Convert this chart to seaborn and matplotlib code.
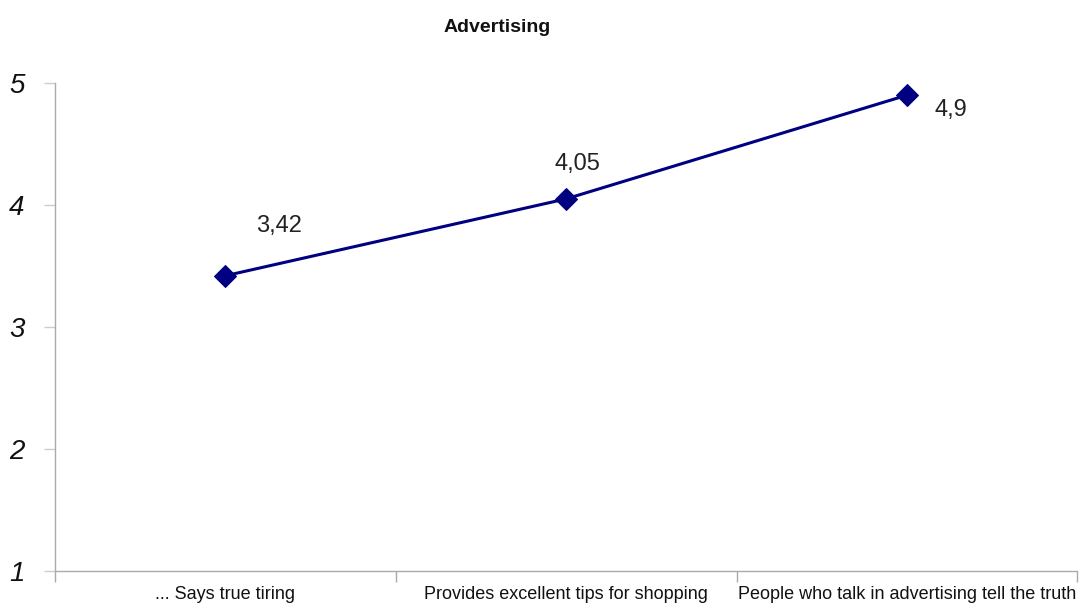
import matplotlib
matplotlib.use("Agg")
import matplotlib.pyplot as plt
import seaborn as sns
import pandas as pd

categories = ["... Says true tiring", "Provides excellent tips for shopping",
              "People who talk in advertising tell the truth"]
values = [3.42, 4.05, 4.9]
value_labels = ["3,42", "4,05", "4,9"]
yticks = [1, 2, 3, 4, 5]

sns.set_theme(style="white")
plt.rcParams['font.family'] = ['Liberation Sans', 'DejaVu Sans']

df = pd.DataFrame({"cat": categories, "val": values, "x": range(len(categories))})

fig = plt.figure(figsize=(10.83, 6.1), dpi=100)
ax = fig.add_axes([0.0508, 0.064, 0.944, 0.8])

sns.lineplot(data=df, x="x", y="val", ax=ax, color="#000080", linewidth=2.2,
             marker="D", markersize=11, markeredgecolor="#000080")

ax.set_xlim(-0.5, 2.5)
ax.set_ylim(1, 5)
ax.set_yticks(yticks)
ax.set_yticklabels([str(t) for t in yticks], fontsize=20, style="italic", color="#111111")
ax.set_xticks([-0.5, 0.5, 1.5, 2.5])
ax.set_xticklabels([])
ax.set_xticks([0, 1, 2], minor=True)
ax.set_xticklabels(categories, minor=True, fontsize=13, color="#111111")
ax.tick_params(axis="x", which="minor", length=0, pad=11)
ax.tick_params(axis="x", which="major", length=8, color="#aaaaaa", width=1, direction="out", bottom=True)
ax.tick_params(axis="y", which="major", length=8, color="#cccccc", width=1, direction="out", left=True, pad=14)
ax.set_xlabel("")
ax.set_ylabel("")

for s in ["top", "right"]:
    ax.spines[s].set_visible(False)
for s in ["left", "bottom"]:
    ax.spines[s].set_color("#aaaaaa")
    ax.spines[s].set_linewidth(1)

offsets = [(54, 50), (11, 35), (44, -15)]
for i, (v, lab) in enumerate(zip(values, value_labels)):
    ax.annotate(lab, (i, v), xytext=offsets[i], textcoords="offset pixels",
                ha="center", va="center", fontsize=17, color="#222222")

fig.text(0.459, 0.955, "Advertising", ha="center", va="center",
         fontsize=14, fontweight="bold", color="#111111")

fig.savefig("out.png", dpi=100)
